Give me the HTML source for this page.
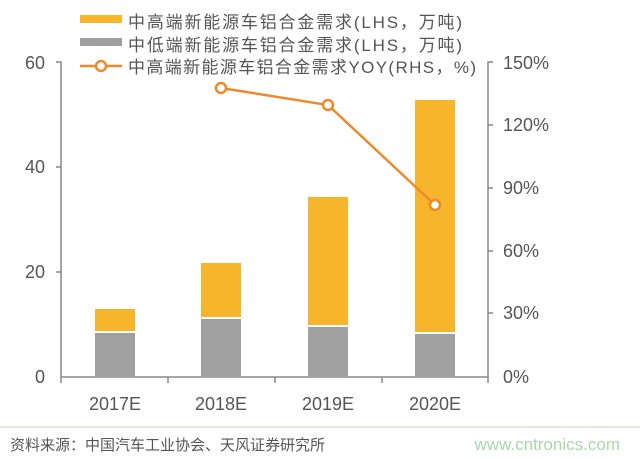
<!DOCTYPE html>
<html><head><meta charset="utf-8"><style>
body{margin:0;background:#fff;}
svg{display:block;font-family:"Liberation Sans","Noto Sans CJK SC",sans-serif;}
</style></head><body>
<svg width="640" height="459" viewBox="0 0 640 459">
<rect width="640" height="459" fill="#fff"/>
<rect x="80" y="15" width="42" height="8" fill="#f7b52c"/>
<text x="128" y="28" font-size="17" fill="#555" textLength="334">中高端新能源车铝合金需求(LHS，万吨)</text>
<rect x="80" y="38" width="42" height="8" fill="#a0a0a0"/>
<text x="128" y="51" font-size="17" fill="#555" textLength="334">中低端新能源车铝合金需求(LHS，万吨)</text>
<line x1="80" y1="66" x2="122" y2="66" stroke="#ee8a2a" stroke-width="2.5"/>
<circle cx="101" cy="66" r="5" fill="#fff" stroke="#ee8a2a" stroke-width="2.5"/>
<text x="128" y="73" font-size="17" fill="#555" textLength="348">中高端新能源车铝合金需求YOY(RHS，%)</text>
<g stroke="#888" stroke-width="1.5" fill="none">
<path d="M56 62 H61 V377 H488 V62 H493"/>
<path d="M56 272 H61 M56 167 H61 M488 313 H493 M488 251 H493 M488 188 H493 M488 125 H493"/>
<path d="M168 377 V383 M275 377 V383 M382 377 V383 M61 377 V383 M488 377 V383"/>
</g>
<g font-size="18" fill="#555">
<text x="45" y="69" text-anchor="end">60</text>
<text x="45" y="173" text-anchor="end">40</text>
<text x="45" y="278" text-anchor="end">20</text>
<text x="45" y="383" text-anchor="end">0</text>
<text x="503" y="69">150%</text>
<text x="503" y="131">120%</text>
<text x="503" y="194">90%</text>
<text x="503" y="257">60%</text>
<text x="503" y="319">30%</text>
<text x="503" y="383">0%</text>
<text x="115" y="410" text-anchor="middle">2017E</text>
<text x="221" y="410" text-anchor="middle">2018E</text>
<text x="328" y="410" text-anchor="middle">2019E</text>
<text x="435" y="410" text-anchor="middle">2020E</text>
</g>
<g fill="#a0a0a0">
<rect x="95" y="333" width="40" height="44"/>
<rect x="201" y="319" width="40" height="58"/>
<rect x="308" y="327" width="40" height="50"/>
<rect x="415" y="334" width="40" height="43"/>
</g>
<g fill="#f7b52c">
<rect x="95" y="309" width="40" height="22"/>
<rect x="201" y="263" width="40" height="54"/>
<rect x="308" y="197" width="40" height="128"/>
<rect x="415" y="100" width="40" height="232"/>
</g>
<polyline points="221,88 328,105 435,205" fill="none" stroke="#ee8a2a" stroke-width="2.5"/>
<g fill="#fff" stroke="#ee8a2a" stroke-width="2.5">
<circle cx="221" cy="88" r="5"/><circle cx="328" cy="105" r="5"/><circle cx="435" cy="205" r="5"/>
</g>
<line x1="0" y1="427" x2="640" y2="427" stroke="#e8e4d8" stroke-width="2"/>
<text x="10" y="450" font-size="15" fill="#555">资料来源：中国汽车工业协会、天风证券研究所</text>
<text x="620" y="450" font-size="17" fill="#a8d8a8" text-anchor="end">www.cntronics.com</text>
</svg>
</body></html>
